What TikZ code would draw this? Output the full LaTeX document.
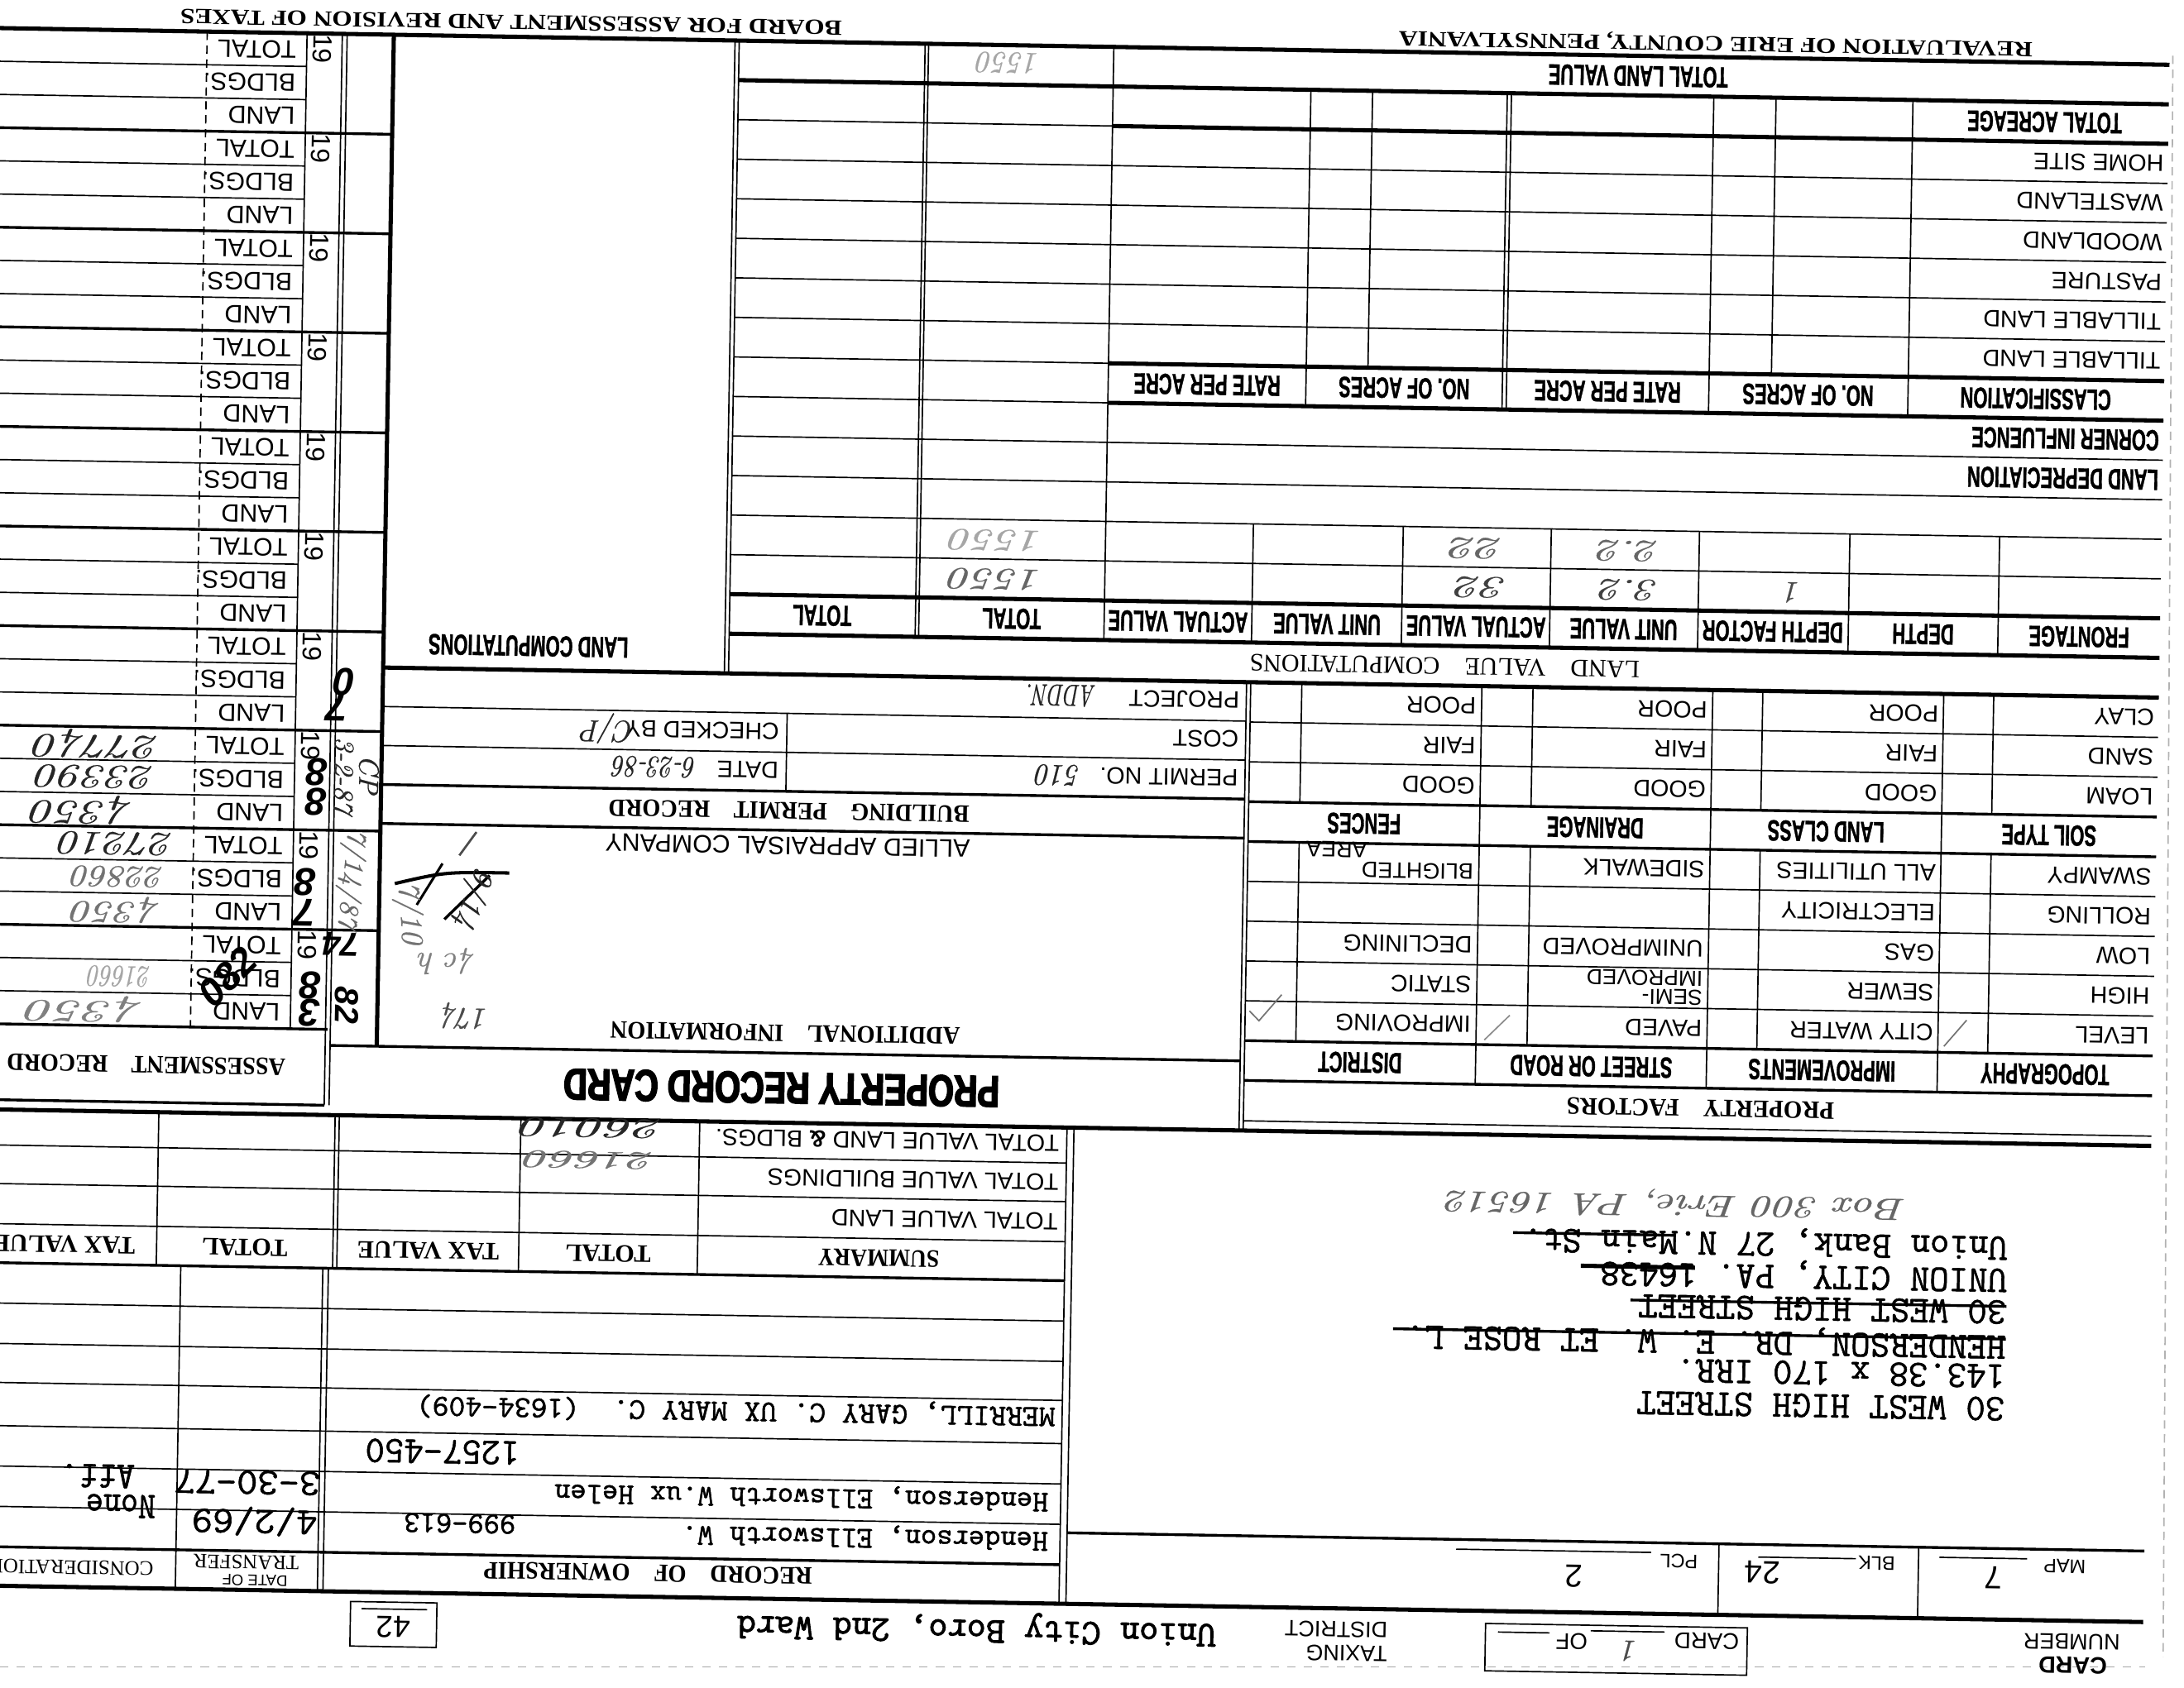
\documentclass[tikz,border=0pt]{standalone}
\usepackage{graphicx}
\usepackage{fontspec}
\setsansfont{Liberation Sans}
\newfontfamily\printserif{Liberation Serif}
\newfontfamily\gothic[FakeStretch=0.62,FakeBold=1]{Liberation Sans}
\newfontfamily\heavyface[FakeStretch=0.56,FakeBold=2.5]{Liberation Sans}
\newfontfamily\typewriter[FakeBold=1.2]{Latin Modern Mono}
\newfontfamily\wardfont[FakeBold=2.2]{Latin Modern Mono}
\newfontfamily\handfont[FakeBold=0.6]{Latin Modern Roman}
\newdimen\pxu \pxu=0.5pt
\newcommand\fitw[2]{\resizebox{#1\pxu}{\height}{#2}}
\tikzset{
  upside/.style={rotate=179, inner sep=0pt, outer sep=0pt},
  lbl/.style={upside, anchor=west, font=\sffamily\fontsize{8.5}{9}\selectfont},
  albl/.style={upside, anchor=west, font=\sffamily\fontsize{9}{10}\selectfont},
  ghead/.style={upside, font=\gothic\bfseries\fontsize{10.5}{11}\selectfont},
  gleft/.style={ghead, anchor=west},
  heading/.style={upside, font=\printserif\bfseries\fontsize{9}{10}\selectfont},
  typed/.style={upside, anchor=west, font=\typewriter\fontsize{10.9}{12}\selectfont},
  bigtyped/.style={upside, anchor=west, font=\typewriter\fontsize{13.5}{14}\selectfont},
  ink/.style={upside, font=\handfont\itshape\fontsize{11}{12}\selectfont, text=black!85},
  faint/.style={ink, text=black!35},
  stamp/.style={upside, font=\sffamily\bfseries\itshape\fontsize{14}{14}\selectfont},
  midrule/.style={line width=1pt},
  boldrule/.style={line width=1.5pt},
}
\begin{document}
\begin{tikzpicture}[x=0.5pt,y=-0.5pt,line width=0.5pt]
\path[use as bounding box,fill=white] (0,0) rectangle (1568,1212);
% scanner traces
\draw[black!35,dashed] (0,1197) -- (1540,1197);
\draw[black!30,densely dashed] (1560,40) -- (1553,1190);
\begin{scope}[rotate around={-0.97:(784,606)}]
% ---------------- header
\node[heading, font=\printserif\bfseries\fontsize{7.8}{9}\selectfont] (board) at (357,23) {\fitw{475}{BOARD FOR ASSESSMENT AND REVISION OF TAXES}};
\node[heading, font=\printserif\bfseries\fontsize{7.8}{9}\selectfont] (reval) at (1222,23) {\fitw{455}{REVALUATION OF ERIE COUNTY, PENNSYLVANIA}};
\draw[boldrule] (-20,33.5) -- (1548,33.5);

% ---------------- assessment record
\foreach \k in {1,...,9} \draw[midrule] (-20,{33.5+71.5*\k}) -- (273,{33.5+71.5*\k});
\draw[midrule] (-20,748.5) -- (237.5,748.5);
\foreach \k in {0,...,9} \foreach \s in {1,2}
  \draw (-20,{33.5+71.5*\k+23.83*\s}) -- (210.7,{33.5+71.5*\k+23.83*\s});
\draw[densely dashed] (139,33.5) -- (139,748.5);
\draw (210.7,33.5) -- (210.7,748.5);
\draw (236,33.5) -- (236,803) (239.5,33.5) -- (239.5,803);
\draw[boldrule] (273,33.5) -- (273,760);
\draw[midrule] (-20,803) -- (236,803);
\foreach \k in {0,...,9}{
  \node[albl] (tot\k) at (203,{33.5+71.5*\k+12}) {TOTAL};
  \node[albl] (bld\k) at (203,{33.5+71.5*\k+35.8}) {BLDGS.};
  \node[albl] (lnd\k) at (203,{33.5+71.5*\k+59.6}) {LAND};
  \node[rotate=269, inner sep=0pt, font=\sffamily\fontsize{9.5}{10}\selectfont] (yr\k) at (222,{33.5+71.5*\k+11}) {19};
}
\node[heading] (asrec) at (107.7,776) {\fitw{200}{ASSESSMENT\quad RECORD}};
% entries
\node[ink, anchor=west, font=\handfont\itshape\fontsize{12}{12}\selectfont] (v88t) at (113.7,546) {\fitw{90}{27740}};
\node[ink, anchor=west, font=\handfont\itshape\fontsize{12}{12}\selectfont] (v88b) at (110.6,569.8) {\fitw{85}{23390}};
\node[ink, anchor=west, font=\handfont\itshape\fontsize{12}{12}\selectfont] (v88l) at (94.5,593.5) {\fitw{72}{4350}};
\node[ink, anchor=west, font=\handfont\itshape\fontsize{12}{12}\selectfont] (v87t) at (125,617.5) {\fitw{82}{27210}};
\node[faint, anchor=west, text=black!55] (v87b) at (118.4,641.3) {\fitw{66}{22860}};
\node[faint, anchor=west, text=black!55] (v87l) at (115.7,665) {\fitw{63}{4350}};
\node[faint, anchor=west] (v86b) at (110,712.8) {\fitw{45}{21660}};
\node[faint, anchor=west, text=black!50] (v86l) at (104.6,736.5) {\fitw{83}{4350}};
% stamps
\node[stamp] (s88a) at (226.5,564) {8};
\node[stamp] (s88b) at (226.5,585) {8};
\node[stamp] (s87a) at (219.5,643) {8};
\node[stamp] (s87b) at (219.5,665) {7};
\node[stamp] (s83a) at (224.5,717) {8};
\node[stamp] (s83b) at (224.5,737) {3};
\node[stamp] (s70a) at (245.5,499) {0};
\node[stamp] (s70b) at (240,517) {7};
\node[stamp, font=\sffamily\bfseries\itshape\fontsize{12}{12}\selectfont] (s74) at (246,687.2) {74};
\node[stamp, rotate=90, font=\sffamily\bfseries\itshape\fontsize{12}{12}\selectfont] (s82) at (251,731) {82};
\node[stamp, rotate=-134] (s082) at (165,712) {082};
\node[ink, rotate=90, font=\handfont\itshape\fontsize{10}{10}\selectfont] (d1) at (246,566) {3-2-87};
\node[ink, rotate=90, font=\handfont\itshape\fontsize{10}{10}\selectfont] (cp) at (264,565) {CP};
\node[ink, rotate=85, text=black!60, font=\handfont\itshape\fontsize{10}{10}\selectfont] (d2) at (252,640) {7/14/87};

% ---------------- land computations box
\node[ghead] (lcomp) at (377,470.7) {LAND COMPUTATIONS};

% ---------------- land classification + land value tables
\draw (518,33.5) -- (518,488) (521,33.5) -- (521,488);
\draw (654.5,33.5) -- (654.5,459.5) (657,33.5) -- (657,459.5);
\draw (790,33.5) -- (790,459.5);
\foreach \k in {2,...,13} \draw (521,{33.5+28.4*\k}) -- (1548,{33.5+28.4*\k});
\draw[boldrule] (521,61.9) -- (1548,61.9);
\draw[boldrule] (790,90.3) -- (1548,90.3);
\draw[boldrule] (790,260.7) -- (1548,260.7);
\draw[boldrule] (790,289.1) -- (1548,289.1);
\draw[boldrule] (521,431.1) -- (1548,431.1);
\draw[boldrule] (521,459.5) -- (1548,459.5);
\draw[boldrule] (273,488) -- (1548,488);
\foreach \u in {932,1073,1076,1221.3,1364.3} \draw (\u,61.9) -- (\u,289.1);
\foreach \u in {976.3,1266} \draw (\u,61.9) -- (\u,260.7);
\foreach \u in {896,1003.6,1109.9,1216.3,1324.3,1431.8} \draw (\u,374.3) -- (\u,459.5);

\node[ghead] (tlv) at (1166.7,48) {TOTAL LAND VALUE};
\node[faint] (tlvv) at (714.5,46) {1550};
\node[ghead] (tac) at (1459,76.1) {TOTAL ACREAGE};
\foreach \t [count=\i from 2] in {HOME SITE,WASTELAND,WOODLAND,PASTURE,TILLABLE LAND,TILLABLE LAND}
  \node[lbl] (cl\i) at (1545,{33.5+28.4*(\i+0.5)}) {\t};
\node[ghead] (cls) at (1456,274.9) {CLASSIFICATION};
\node[ghead] (na1) at (1292.5,274.9) {NO. OF ACRES};
\node[ghead] (rp1) at (1148.5,274.9) {RATE PER ACRE};
\node[ghead] (na2) at (1002.5,274.9) {NO. OF ACRES};
\node[ghead] (rp2) at (861,274.9) {RATE PER ACRE};
\node[gleft] (cinf) at (1545,303.3) {CORNER INFLUENCE};
\node[gleft] (ldep) at (1545,331.7) {LAND DEPRECIATION};
\foreach \t/\u [count=\i] in {FRONTAGE/1490,DEPTH/1378,DEPTH FACTOR/1270,UNIT VALUE/1163,ACTUAL VALUE/1057,UNIT VALUE/950,ACTUAL VALUE/843,TOTAL/723.5,TOTAL/587.5}
  \node[ghead] (lv\i) at (\u,445.3) {\t};
\node[heading, font=\printserif\fontsize{9}{10}\selectfont] (lvc) at (1035,474) {\fitw{280}{LAND\quad VALUE\quad COMPUTATIONS}};
\node[faint] (tt1) at (712,389) {\fitw{67}{1550}};
\node[ink, text=black!60] (tt2) at (712,417) {\fitw{67}{1550}};
\node[ink, text=black!60] (av1) at (1057,389) {\fitw{38}{22}};
\node[ink, text=black!60] (uv1) at (1166,389) {\fitw{44}{2.2}};
\node[ink, text=black!75] (av2) at (1061,417) {\fitw{37}{32}};
\node[ink, text=black!75] (uv2) at (1167,417) {\fitw{42}{3.2}};
\node[ink, text=black!70] (df2) at (1284,417) {1};

% ---------------- building permit / additional information
\draw (273,516) -- (893,516) (273,544) -- (893,544);
\draw[midrule] (273,572) -- (893,572) (273,600) -- (893,600);
\draw[midrule] (239.5,760) -- (893,760);
\draw (563.6,516) -- (563.6,572);
\draw (893,488) -- (893,810) (896,488) -- (896,810);
\node[lbl] (proj) at (888,501) {PROJECT};
\node[ink, anchor=west] (addn) at (785,500) {\fitw{50}{ADDN.}};
\node[lbl] (cost) at (888,529) {COST};
\node[lbl] (pno) at (888,557) {PERMIT NO.};
\node[ink, anchor=west] (pnov) at (775,557) {\fitw{32}{510}};
\node[lbl] (chk) at (558,529) {CHECKED BY};
\node[ink, anchor=west] (chkv) at (454,529) {\fitw{38}{C/P}};
\node[lbl] (date) at (558,557) {DATE};
\node[ink, anchor=west] (datev) at (499,556) {\fitw{60}{6-23-86}};
\node[heading] (bpr) at (566,586) {\fitw{259}{BUILDING\quad PERMIT\quad RECORD}};
\node[upside, font=\sffamily\fontsize{9}{10}\selectfont] (allied) at (565.5,611) {ALLIED APPRAISAL COMPANY};
\node[heading] (addinfo) at (566,745.6) {\fitw{251}{ADDITIONAL\quad INFORMATION}};
\node[upside, font=\heavyface\bfseries\fontsize{16}{16}\selectfont] (prc) at (564,785) {\fitw{313}{PROPERTY RECORD CARD}};
% pencil notes
\draw[line width=1.2pt] (284,643) .. controls (320,634) .. (366,634);
\draw[line width=1pt] (320,668) -- (352,636);
\draw[line width=0.9pt] (300,658) -- (318,628);
\draw[line width=0.8pt,black!70] (330,622) -- (342,605);
\node[ink, rotate=70] (al1) at (340,652) {9/14};
\node[faint, rotate=95, text=black!55] (al2) at (294,664) {7/10};
\node[ink, text=black!70] (al3) at (336,737) {174};
\node[faint, text=black!50] (al4) at (322,698) {4c h};

% ---------------- property factors
\foreach \j in {1,2,5,6,7,8} \draw (896,{488+28.6*\j}) -- (1548,{488+28.6*\j});
\foreach \j in {3,4,9,10} \draw[midrule] (896,{488+28.6*\j}) -- (1548,{488+28.6*\j});
\draw (896,803) -- (1548,803);
\foreach \u in {932.7,1098.7,1263.7,1429.5} \draw (\u,488) -- (\u,573.8) (\u,602.4) -- (\u,745.4);
\foreach \u in {1062,1227.8,1393.6} \draw (\u,488) -- (\u,774);
\foreach \t [count=\j from 0] in {CLAY,SAND,LOAM}
  \node[lbl] (soil\j) at (1545,{502.3+28.6*\j}) {\t};
\foreach \c [count=\n] in {1390,1224,1058} \foreach \t [count=\j from 0] in {POOR,FAIR,GOOD}
  \node[lbl] (pfg\n\j) at (\c,{502.3+28.6*\j}) {\t};
\foreach \t/\u [count=\i] in {SOIL TYPE/1470.8,LAND CLASS/1310.7,DRAINAGE/1145,FENCES/979}
  \node[ghead] (sth\i) at (\u,588.1) {\t};
\foreach \t/\u [count=\i] in {TOPOGRAPHY/1470.8,IMPROVEMENTS/1310.7,STREET OR ROAD/1145,DISTRICT/979}
  \node[ghead] (tph\i) at (\u,759.7) {\t};
\foreach \t [count=\j from 4] in {SWAMPY,ROLLING,LOW,HIGH,LEVEL}
  \node[lbl] (topo\j) at (1545,{502.3+28.6*\j}) {\t};
\foreach \t [count=\j from 4] in {ALL UTILITIES,ELECTRICITY,GAS,SEWER,CITY WATER}
  \node[lbl] (imp\j) at (1390,{502.3+28.6*\j}) {\t};
\node[lbl] (sw) at (1224,616.7) {SIDEWALK};
\node[lbl] (unimp) at (1224,673.9) {UNIMPROVED};
\node[lbl, font=\sffamily\fontsize{7.8}{8}\selectfont] (semi) at (1224,709) {SEMI-};
\node[lbl, font=\sffamily\fontsize{7.8}{8}\selectfont] (semib) at (1224,695.5) {IMPROVED};
\node[lbl] (paved) at (1224,731.1) {PAVED};
\node[lbl, font=\sffamily\fontsize{8}{8}\selectfont] (bli) at (1058,621.5) {BLIGHTED};
\node[lbl, anchor=east, font=\sffamily\fontsize{8}{8}\selectfont] (area) at (938,607) {AREA};
\node[lbl] (dec) at (1058,673.9) {DECLINING};
\node[lbl] (stat) at (1058,702.5) {STATIC};
\node[lbl] (impr) at (1058,731.1) {IMPROVING};
\node[heading] (pf) at (1224,788.5) {\fitw{192}{PROPERTY\quad FACTORS}};
\draw[black!55] (1398,741) -- (1414,722);
\draw[black!45] (1068,742) -- (1086,724);
\draw[black!55] (899,724) -- (906,731) -- (922,712);

% ---------------- summary
\draw[boldrule] (-20,810) -- (1548,810);
\foreach \v in {835.5,863.2,892} \draw (-20,\v) -- (769.5,\v);
\draw[midrule] (-20,920) -- (769.5,920);
\foreach \u in {117.4,244,247,377.4,505.8} \draw (\u,810) -- (\u,920);
\draw (769.5,810) -- (769.5,1152) (774.5,810) -- (774.5,1152);
\node[lbl] (sv1) at (764,821.5) {TOTAL VALUE LAND \textbf{\&} BLDGS.};
\node[lbl] (sv2) at (764,849.4) {TOTAL VALUE BUILDINGS};
\node[lbl] (sv3) at (764,877.6) {TOTAL VALUE LAND};
\node[heading] (summ) at (636,906) {\fitw{87}{SUMMARY}};
\foreach \t/\u [count=\i] in {TAX VALUE/51,TOTAL/180.7,TAX VALUE/312.4,TOTAL/441.6}
  \node[heading] (sm\i) at (\u,906) {\t};
\node[ink, anchor=west, font=\handfont\itshape\fontsize{10}{10}\selectfont] (s26) at (480,816) {\fitw{102}{26010}};
\node[ink, anchor=west, text=black!55, font=\handfont\itshape\fontsize{9}{10}\selectfont] (s21) at (474,839) {\fitw{93}{21660}};

% ---------------- record of ownership
\foreach \v in {949,978,1006,1037,1066,1095} \draw (-20,\v) -- (769.5,\v);
\draw[midrule] (-20,1124) -- (769.5,1124);
\draw[boldrule] (-20,1152) -- (1548,1152);
\draw (135,920) -- (135,1152);
\draw (237,920) -- (237,1152) (241,920) -- (241,1152);
\node[upside, anchor=west, font=\printserif\fontsize{7.4}{8}\selectfont] (cons) at (119,1138) {CONSIDERATION};
\node[upside, font=\printserif\fontsize{7.4}{8}\selectfont] (trans) at (185.5,1132) {TRANSFER};
\node[upside, font=\sffamily\fontsize{5.5}{6}\selectfont] (dateof) at (192,1145) {DATE OF};
\node[heading] (rown) at (474,1135) {\fitw{236}{RECORD\quad OF\quad OWNERSHIP}};
\node[typed] (o1) at (761,1106) {Henderson, Ellsworth W.};
\node[typed] (o1b) at (378.5,1101.7) {999-613};
\node[bigtyped] (o1d) at (236,1102.7) {\fitw{90}{4/2/69}};
\node[bigtyped] (o1c) at (119.8,1093.3) {\fitw{50}{None}};
\node[typed] (o2) at (760.7,1077.8) {Henderson, Ellsworth W.ux Helen};
\node[bigtyped] (o2d) at (237.8,1074.8) {\fitw{105}{3-30-77}};
\node[bigtyped] (o2c) at (104.7,1072.1) {\fitw{54}{Aff.}};
\node[bigtyped] (o3) at (380.7,1050.4) {\fitw{111}{1257-450}};
\node[typed] (o4) at (764.6,1017.4) {\fitw{459}{MERRILL, GARY C. UX MARY C.~~(1634-409)}};
\draw (261,1159) rectangle (323,1191);
\draw (269,1164) -- (316,1164);
\node[upside, font=\sffamily\fontsize{11}{11}\selectfont] (box42) at (292,1177) {42};

% ---------------- address and card data
\node[bigtyped] (ad1) at (1446,1000.7) {30 WEST HIGH STREET};
\node[bigtyped] (ad2) at (1446,977.2) {143.38 x 170 IRR.};
\node[bigtyped] (ad3) at (1446,954.7) {HENDERSON, DR. E. W. ET ROSE L.};
\node[bigtyped] (ad4) at (1446,931.2) {30 WEST HIGH STREET};
\node[bigtyped] (ad5) at (1446,906.8) {UNION CITY, PA. 16438};
\node[bigtyped] (ad6) at (1446,883.7) {Union Bank, 27 N.Main St.};
\node[ink, anchor=west, text=black!60] (ad7) at (1373,857) {\fitw{330}{Box 300 Erie, PA 16512}};
\draw[midrule] (1006,950.5) -- (1446,950.5);
\draw[midrule] (1176,927) -- (1446,927);
\draw[boldrule] (1140,903) -- (1222,903);
\draw[midrule] (1091,880) -- (1208,880);

\draw[midrule] (774.5,1101) -- (1548,1101);
\draw (1242.6,1101) -- (1242.6,1152) (1386,1101) -- (1386,1152);
\draw (1401,1108) -- (1464,1108) (1271,1110) -- (1341,1110) (1054,1108) -- (1194,1108);
\node[upside, font=\sffamily\fontsize{7}{7}\selectfont] (map) at (1491,1113) {MAP};
\node[upside, font=\sffamily\fontsize{11.5}{12}\selectfont] (mapv) at (1440,1122) {7};
\node[upside, font=\sffamily\fontsize{7}{7}\selectfont] (blk) at (1356,1113) {BLK};
\node[upside, font=\sffamily\fontsize{11.5}{12}\selectfont] (blkv) at (1274,1121) {24};
\node[upside, font=\sffamily\fontsize{7}{7}\selectfont] (pcl) at (1214,1114) {PCL};
\node[upside, font=\sffamily\fontsize{11.5}{12}\selectfont] (pclv) at (1139,1126) {2};

\node[upside, font=\sffamily\bfseries\fontsize{8.5}{9}\selectfont] (cardn1) at (1498,1184) {CARD};
\node[upside, font=\sffamily\fontsize{8}{9}\selectfont] (cardn2) at (1497,1167) {NUMBER};
\draw (1076,1161) rectangle (1264,1195);
\draw (1151.6,1165) -- (1204.6,1165) (1085,1167) -- (1122,1167);
\node[upside, font=\sffamily\fontsize{8.2}{9}\selectfont] (cardof1) at (1235,1171) {CARD};
\node[upside, font=\sffamily\fontsize{8.2}{9}\selectfont] (cardof2) at (1138,1173) {OF};
\node[ink, text=black!70] (cardofv) at (1180,1179) {1};
\node[upside, anchor=west, font=\sffamily\fontsize{8}{9}\selectfont] (tax1) at (1005.7,1184) {TAXING};
\node[upside, anchor=west, font=\sffamily\fontsize{8}{9}\selectfont] (tax2) at (1005.7,1167) {DISTRICT};
\node[upside, font=\wardfont\fontsize{13}{13}\selectfont] (ward) at (710.5,1170) {\fitw{344}{Union City Boro, 2nd Ward}};
\end{scope}
\end{tikzpicture}
\end{document}
